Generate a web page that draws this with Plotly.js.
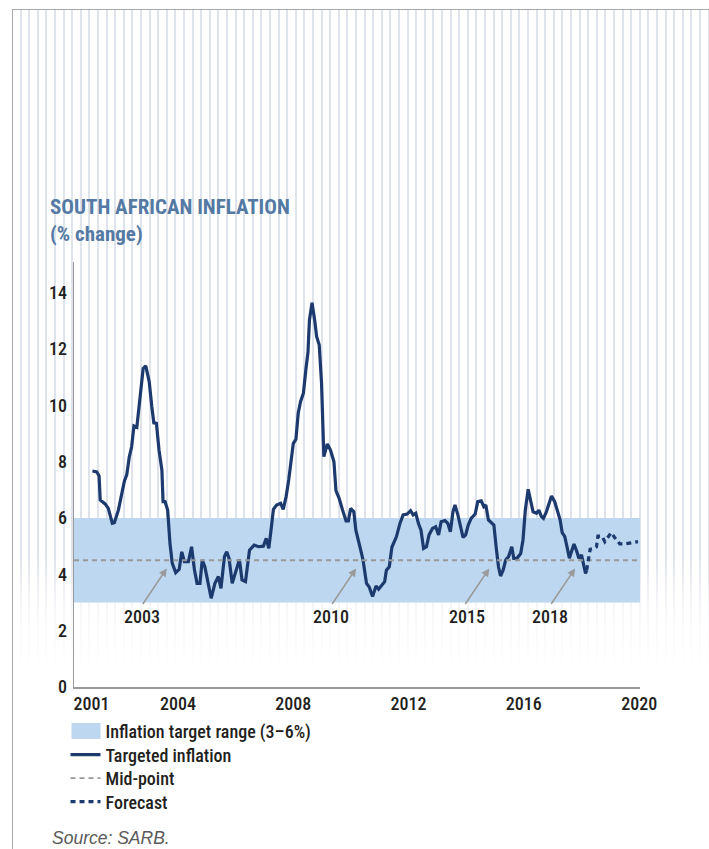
<!DOCTYPE html>
<html>
<head>
<meta charset="utf-8">
<script src="https://cdn.plot.ly/plotly-3.0.1.min.js"></script>
<style>
  html, body { margin: 0; padding: 0; background: #fff; }
  #wrap { position: relative; width: 709px; height: 849px; overflow: hidden; background: #fff; }
  #stripes {
    position: absolute; left: 13px; top: 10px; width: 696px; height: 660px;
    background:
      linear-gradient(to bottom, rgba(255,255,255,0) 0px, rgba(255,255,255,0) 545px, rgba(255,255,255,0.75) 600px, #fff 660px),
      repeating-linear-gradient(90deg, rgba(0,0,0,0) 0px, rgba(0,0,0,0) 6.6px, #dfe3eb 6.6px, #dfe3eb 8.6px);
  }
  #frameTop { position: absolute; left: 12px; top: 9px; width: 697px; height: 1px; background: #a8a8a8; }
  #frameLeft { position: absolute; left: 12px; top: 9px; width: 1px; height: 840px; background: #a8a8a8; }
  #chart { position: absolute; left: 0; top: 0; width: 709px; height: 849px; }
</style>
</head>
<body>
<div id="wrap">
  <div id="stripes"></div>
  <div id="frameTop"></div>
  <div id="frameLeft"></div>
  <div id="chart"></div>
</div>
<script>
// ---- data (decimal years, % change) ----
const inflationYears = [
  2001.03,2001.18,2001.26,2001.30,2001.47,2001.58,2001.72,2001.79,2001.93,2002.05,
  2002.14,2002.22,2002.31,2002.39,2002.47,2002.57,2002.65,2002.72,2002.79,2002.88,
  2003.00,2003.09,2003.16,2003.25,2003.34,2003.44,2003.48,2003.55,2003.64,2003.72,
  2003.80,2003.92,2004.04,2004.13,2004.22,2004.36,2004.47,2004.57,2004.66,2004.76,
  2004.84,2004.93,2005.05,2005.15,2005.28,2005.40,2005.49,2005.61,2005.69,2005.77,
  2005.88,2006.01,2006.13,2006.22,2006.34,2006.48,2006.64,2006.79,2006.96,2007.06,
  2007.15,2007.24,2007.31,2007.42,2007.56,2007.65,2007.75,2007.84,2007.91,2008.00,
  2008.09,2008.17,2008.25,2008.35,2008.44,2008.51,2008.56,2008.65,2008.74,2008.81,
  2008.90,2008.98,2009.06,2009.18,2009.29,2009.41,2009.48,2009.59,2009.71,2009.83,
  2009.91,2009.99,2010.10,2010.17,2010.31,2010.42,2010.54,2010.63,2010.75,2010.87,
  2010.96,2011.07,2011.17,2011.23,2011.33,2011.42,2011.51,2011.58,2011.70,2011.81,
  2011.95,2012.07,2012.16,2012.25,2012.34,2012.43,2012.52,2012.62,2012.71,2012.83,
  2012.94,2013.04,2013.13,2013.26,2013.36,2013.45,2013.54,2013.61,2013.71,2013.80,
  2013.89,2013.98,2014.07,2014.17,2014.31,2014.40,2014.52,2014.61,2014.68,2014.77,
  2014.86,2014.96,2015.05,2015.12,2015.19,2015.28,2015.37,2015.47,2015.58,2015.65,
  2015.76,2015.89,2015.97,2016.05,2016.15,2016.24,2016.32,2016.44,2016.52,2016.61,
  2016.68,2016.78,2016.87,2016.96,2017.07,2017.19,2017.26,2017.33,2017.42,2017.49,
  2017.58,2017.65,2017.74,2017.84,2017.91,2018.00,2018.07,2018.14,2018.18
];
const inflationValues = [
  7.67,7.64,7.49,6.64,6.50,6.34,5.81,5.83,6.28,6.87,
  7.32,7.53,8.18,8.53,9.27,9.22,10.07,10.66,11.31,11.40,
  10.84,9.95,9.38,9.36,8.41,7.70,6.58,6.58,6.28,5.10,
  4.39,4.06,4.18,4.80,4.45,4.45,4.98,4.15,3.68,3.68,
  4.51,4.27,3.68,3.15,3.68,3.92,3.50,4.63,4.80,4.57,
  3.68,4.15,4.53,3.80,3.74,4.86,5.04,4.98,5.00,5.28,
  4.92,5.69,6.31,6.46,6.52,6.31,6.76,7.35,7.94,8.65,
  8.79,9.72,10.13,10.43,11.31,11.90,13.03,13.64,13.03,12.44,
  12.14,10.78,8.18,8.63,8.41,8.00,6.97,6.70,6.28,5.90,
  5.90,6.34,6.22,5.57,4.98,4.51,3.68,3.56,3.21,3.59,
  3.47,3.62,3.74,4.15,4.27,4.96,5.22,5.34,5.81,6.11,
  6.14,6.26,6.11,6.17,5.81,5.57,4.92,4.98,5.40,5.63,
  5.69,5.40,5.87,5.91,5.81,5.51,6.22,6.46,6.11,5.69,
  5.31,5.40,5.75,5.99,6.14,6.58,6.61,6.40,6.46,5.93,
  5.83,5.75,4.86,4.27,3.94,4.15,4.51,4.63,4.98,4.57,
  4.57,4.74,5.22,6.28,7.02,6.64,6.22,6.17,6.28,6.05,
  5.99,6.22,6.52,6.78,6.58,6.22,5.93,5.48,5.34,5.01,
  4.57,4.80,5.08,4.80,4.57,4.69,4.33,4.03,4.15
];
const forecastYears = [2018.18,2018.25,2018.30,2018.43,2018.52,2018.57,2018.71,2018.81,2018.92,2019.03,2019.15,2019.33,2019.50,2019.67,2019.96];
const forecastValues = [4.15,4.51,4.89,4.92,4.98,5.36,5.36,5.16,5.34,5.48,5.31,5.08,5.08,5.12,5.16];

const targetLow = 3, targetHigh = 6, midPoint = 4.5;
const xStart = 2000.39, xEnd = 2020.03;
const xTicks = [2001, 2004, 2008, 2012, 2016, 2020];
const yTicks = [0, 2, 4, 6, 8, 10, 12, 14];
const pointerYears = [2003, 2010, 2015, 2018];
const pointerHeads = [2003.61, 2010.18, 2014.80, 2017.78];
const pointerLabelX = [2002.74, 2009.31, 2014.02, 2016.91];
const pointerHeadY = 4.21, pointerLabelY = 2.49;

const COND = '"Roboto Condensed", "DejaVu Sans Condensed", sans-serif';
const NAVY = '#1d3a6f';
const TXT = '#231f20';

const traces = [
  {
    x: [xStart, xEnd, xEnd, xStart, xStart],
    y: [targetLow, targetLow, targetHigh, targetHigh, targetLow],
    mode: 'none', fill: 'toself', fillcolor: '#bcd7ef',
    name: 'Inflation target range (3–6%)', hoverinfo: 'skip'
  },
  {
    x: inflationYears, y: inflationValues, mode: 'lines',
    line: {color: NAVY, width: 3.2}, name: 'Targeted inflation'
  },
  {
    x: [xStart, xEnd], y: [midPoint, midPoint], mode: 'lines',
    line: {color: '#999999', width: 1.8, dash: '5px,4px'}, name: 'Mid-point'
  },
  {
    x: forecastYears, y: forecastValues, mode: 'lines',
    line: {color: NAVY, width: 3.2, dash: '5px,4px'}, name: 'Forecast'
  }
];

const annotations = [];
pointerYears.forEach((label, i) => {
  annotations.push({
    x: pointerHeads[i], y: pointerHeadY, xref: 'x', yref: 'y', text: '',
    showarrow: true, arrowhead: 2, arrowsize: 1, arrowwidth: 1.6, arrowcolor: '#9a9a9a',
    ax: -25, ay: 37
  });
  annotations.push({
    x: pointerLabelX[i], y: pointerLabelY, xref: 'x', yref: 'y', text: String(label),
    showarrow: false, font: {family: COND, size: 18, weight: 500, color: TXT}
  });
});
annotations.push({
  xref: 'paper', yref: 'paper', x: -0.0424, y: -0.355, xanchor: 'left', yanchor: 'middle',
  text: '<i>Source: SARB.</i>', showarrow: false,
  font: {family: '"Liberation Sans", Arial, sans-serif', size: 17.5, color: '#5a5a5a'}
});

const layout = {
  width: 709, height: 849, autosize: false,
  margin: {l: 74, r: 69, t: 262, b: 162, pad: 0},
  paper_bgcolor: 'rgba(0,0,0,0)', plot_bgcolor: 'rgba(0,0,0,0)',
  title: {
    text: '<b>SOUTH AFRICAN INFLATION<br>(% change)</b>',
    x: 50 / 709, xanchor: 'left', xref: 'container',
    y: 1 - 214 / 849, yanchor: 'top', yref: 'container',
    font: {family: COND, size: 21, color: '#5479a3'}
  },
  xaxis: {
    range: [xStart, xEnd], tickvals: xTicks, ticktext: xTicks.map(String),
    showgrid: false, zeroline: false, showline: true, linecolor: '#9a9a9a', linewidth: 1.5,
    ticks: '', ticklabelstandoff: 0,
    tickfont: {family: COND, size: 18, weight: 500, color: TXT}, fixedrange: true
  },
  yaxis: {
    range: [0, 15.09], tickvals: yTicks,
    showgrid: false, zeroline: false, showline: true, linecolor: '#9a9a9a', linewidth: 1.5,
    ticks: '', ticklabelstandoff: 2,
    tickfont: {family: COND, size: 18, weight: 500, color: TXT}, fixedrange: true
  },
  showlegend: true,
  legend: {
    x: -0.015, xanchor: 'left', y: -0.061, yanchor: 'top',
    orientation: 'v', traceorder: 'normal', bgcolor: 'rgba(0,0,0,0)',
    font: {family: COND, size: 18, weight: 500, color: TXT}, tracegroupgap: 0
  },
  annotations: annotations
};

Plotly.newPlot('chart', traces, layout, {displayModeBar: false, staticPlot: true}).then(() => {
  // enlarge the range swatch and tighten legend rows to match the original layout
  const items = document.querySelectorAll('#chart .legend .traces');
  let y0 = null;
  items.forEach((g, i) => {
    const m = /translate\(([-\d.]+),\s*([-\d.]+)\)/.exec(g.getAttribute('transform') || '');
    if (!m) return;
    if (y0 === null) y0 = parseFloat(m[2]);
    g.setAttribute('transform', 'translate(' + m[1] + ',' + (y0 + i * 23.5) + ')');
  });
  document.querySelectorAll('#chart .legend .legendfill path').forEach(p => {
    p.setAttribute('d', 'M6,-8h29v16h-29z');
  });
});
</script>
</body>
</html>
